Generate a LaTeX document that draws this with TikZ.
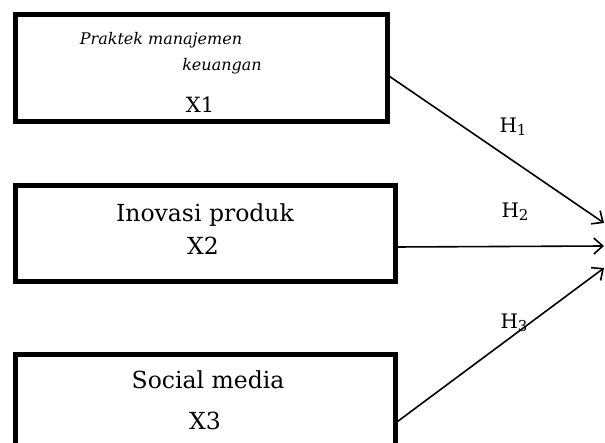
\documentclass[tikz,border=0pt]{standalone}
\usepackage{fontspec}
\setmainfont{DejaVu Serif}
\usetikzlibrary{arrows.meta}
\newcommand{\hsub}[1]{\raisebox{-0.3ex}{\fontsize{15}{17}\selectfont #1}}
\begin{document}
\begin{tikzpicture}[x=1pt,y=-1pt,
  varbox/.style={draw=black,line width=5pt,minimum width=380pt,inner sep=0pt,outer sep=0pt},
  lbl/.style={inner sep=0pt,font=\fontsize{23.5}{26}\selectfont},
  small/.style={inner sep=0pt,font=\fontsize{16}{18}\selectfont\itshape},
  hyp/.style={inner sep=0pt,font=\fontsize{20}{22}\selectfont},
  link/.style={line width=1.6pt,-{Straight Barb[length=9pt,width=16pt,line width=1.6pt]}}]
\useasboundingbox (0,0) rectangle (605,443);
\clip (0,0) rectangle (605,443);
\node[varbox,minimum width=372pt,minimum height=107pt] (b1) at (201.5,68) {};
\node[varbox,minimum height=96pt] (b2) at (205.5,233.5) {};
\node[varbox,minimum height=120pt] (b3) at (205.5,414.5) {};
\node[small] (t1a) at (161,40) {Praktek manajemen};
\node[small] (t1b) at (222,66) {keuangan};
\node[lbl,font=\fontsize{21}{23}\selectfont] (t1c) at (200,105) {X1};
\node[lbl] (t2a) at (205,215) {Inovasi produk};
\node[lbl] (t2b) at (203,246) {X2};
\node[lbl] (t3a) at (208,380) {Social media};
\node[lbl] (t3b) at (205,421) {X3};
\coordinate (s1) at (b1.east |- 0,75);
\coordinate (s2) at (b2.east |- 0,247);
\coordinate (s3) at (b3.east |- 0,423);
\coordinate (e1) at (604,223);
\coordinate (e2) at (604,246);
\coordinate (e3) at (604,268);
\draw[link] (s1) -- (e1);
\draw[link] (s2) -- (e2);
\draw[link] (s3) -- (e3);
\node[hyp] (h1) at (513,127) {H\hsub{1}};
\node[hyp] (h2) at (515,212) {H\hsub{2}};
\node[hyp] (h3) at (514,323) {H\hsub{3}};
\end{tikzpicture}
\end{document}
